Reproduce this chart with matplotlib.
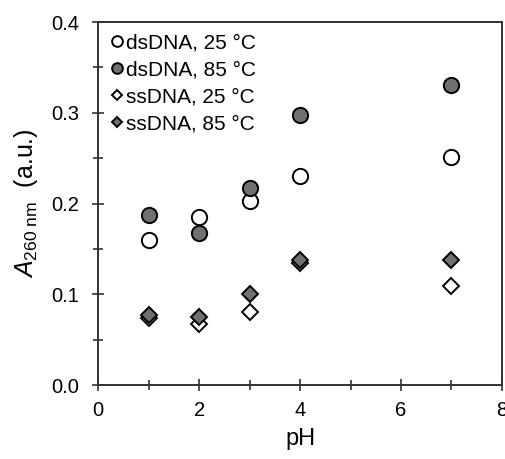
import matplotlib

matplotlib.use("Agg")

import matplotlib.pyplot as plt
from matplotlib.ticker import MultipleLocator

plt.rcParams["font.family"] = ["Liberation Sans", "DejaVu Sans"]
plt.rcParams["mathtext.fontset"] = "custom"
plt.rcParams["mathtext.rm"] = "Liberation Sans"
plt.rcParams["mathtext.it"] = "Liberation Sans:italic"

# Data
ph = [1, 2, 3, 4, 7]
ds_25 = [0.160, 0.185, 0.203, 0.230, 0.251]
ds_85 = [0.187, 0.168, 0.217, 0.298, 0.331]
ss_25 = [0.074, 0.067, 0.081, 0.135, 0.109]
ss_85 = [0.077, 0.075, 0.100, 0.138, 0.138]

labels = ["dsDNA, 25 °C", "dsDNA, 85 °C", "ssDNA, 25 °C", "ssDNA, 85 °C"]
grey = "#707070"

fig = plt.figure(figsize=(5.06, 4.59), dpi=100)
ax = fig.add_axes([0.194, 0.161, 0.798, 0.791])

ax.plot(ph, ds_25, "o", ms=11, mfc="white", mec="black", mew=1.4, ls="none", label=labels[0])
ax.plot(ph, ds_85, "o", ms=11, mfc=grey, mec="black", mew=1.4, ls="none", label=labels[1])
ax.plot(ph, ss_25, "D", ms=8, mfc="white", mec="black", mew=1.4, ls="none", label=labels[2])
ax.plot(ph, ss_85, "D", ms=8, mfc=grey, mec="black", mew=1.4, ls="none", label=labels[3])

ax.set_xlim(0, 8)
ax.set_ylim(0, 0.4)
ax.xaxis.set_major_locator(MultipleLocator(2))
ax.xaxis.set_minor_locator(MultipleLocator(1))
ax.yaxis.set_major_locator(MultipleLocator(0.1))
ax.yaxis.set_minor_locator(MultipleLocator(0.05))
ax.yaxis.set_major_formatter(lambda v, pos: f"{v:.1f}")

ax.tick_params(which="both", direction="inout", top=False, right=False,
               labelsize=14.5, width=1.2, color="#333333")
ax.tick_params(which="major", length=9)
ax.tick_params(which="minor", length=7)
ax.tick_params(axis="y", which="major", pad=9)
ax.tick_params(axis="x", which="major", pad=7)
for s in ax.spines.values():
    s.set_linewidth(1.4)
    s.set_color("#333333")

ax.set_xlabel("pH", fontsize=17, labelpad=6)
ax.set_ylabel(r"$A_{\mathrm{260\ nm}}$  (a.u.)", fontsize=18, labelpad=8)

leg = ax.legend(loc="upper left", frameon=False, fontsize=15, markerscale=0.7,
                handletextpad=0.05, handlelength=0.8, labelspacing=0.38,
                borderaxespad=0.2, borderpad=0.1,
                bbox_to_anchor=(0.01, 0.985))

fig.savefig("out.png", dpi=100)
